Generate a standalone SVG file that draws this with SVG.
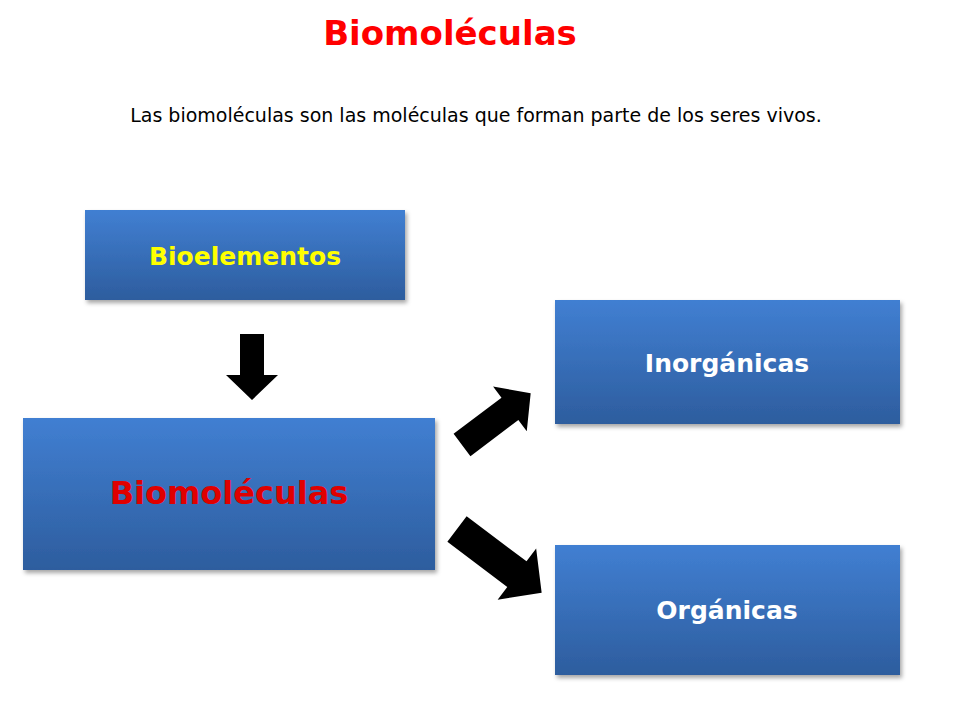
<svg xmlns="http://www.w3.org/2000/svg" width="960" height="720" viewBox="0 0 960 720">
<defs>
<linearGradient id="g" x1="0" y1="0" x2="0" y2="1"><stop offset="0" stop-color="#417fd2"/><stop offset="1" stop-color="#2d5d9e"/></linearGradient>
<filter id="sh" x="-10%" y="-10%" width="130%" height="130%"><feDropShadow dx="2" dy="3" stdDeviation="2" flood-color="#000" flood-opacity="0.35"/></filter>
</defs>
<style>
.box{fill:url(#g);filter:url(#sh)}
.t{font-family:"DejaVu Sans",sans-serif;font-weight:bold;text-anchor:middle}
.arr{fill:#000}
</style>
<rect width="960" height="720" fill="#fff"/>
<text x="450" y="45" class="t" font-size="34" fill="#ff0000">Biomoléculas</text>
<text x="476" y="122" font-family="DejaVu Sans,sans-serif" font-size="19" text-anchor="middle" fill="#000">Las biomoléculas son las moléculas que forman parte de los seres vivos.</text>
<g id="bioelementos"><rect class="box" x="85" y="210" width="320" height="90"/><text x="245" y="265" class="t" font-size="25" fill="#ffff00">Bioelementos</text></g>
<g id="biomoleculas"><rect class="box" x="23" y="418" width="412" height="152"/><text x="229" y="504" class="t" font-size="32" fill="#e00000">Biomoléculas</text></g>
<g id="inorganicas"><rect class="box" x="555" y="300" width="345" height="124"/><text x="727" y="372" class="t" font-size="25" fill="#fff">Inorgánicas</text></g>
<g id="organicas"><rect class="box" x="555" y="545" width="345" height="130"/><text x="727" y="619" class="t" font-size="25" fill="#fff">Orgánicas</text></g>
<g id="connectors">
<polygon class="arr" transform="translate(252,334) rotate(90)" points="0,-12 41,-12 41,-26 66,0 41,26 41,12 0,12"/>
<polygon class="arr" transform="translate(462,445) rotate(-37)" points="0,-14 60,-14 60,-28 86,0 60,28 60,14 0,14"/>
<polygon class="arr" transform="translate(457,529) rotate(37)" points="0,-16 75,-16 75,-32 106,0 75,32 75,16 0,16"/>
</g>
</svg>
